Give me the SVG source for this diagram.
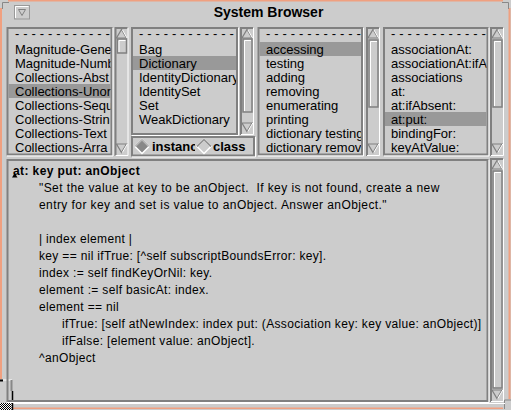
<svg xmlns="http://www.w3.org/2000/svg" width="511" height="410" viewBox="0 0 511 410">
<style>
.lst{font-family:"Liberation Sans",Arial,Helvetica,sans-serif;font-size:13px;fill:#000}
.code{font-family:"Liberation Sans",Arial,Helvetica,sans-serif;font-size:12px;fill:#000;letter-spacing:0.33px}
.cmt{letter-spacing:0.42px}
.hdr{font-weight:bold;letter-spacing:0.4px}
.b{font-weight:bold}
.frame{fill:none;stroke:#808080;stroke-width:2}
.hl{fill:none;stroke:#fff;stroke-width:1}
.sel{fill:#999}
.dk{fill:none;stroke:#808080;stroke-width:2}
.wt{fill:none;stroke:#fff;stroke-width:1}
.arr{fill:none;stroke:#808080;stroke-width:1.2}
.thumb{fill:#ccc;stroke:#808080;stroke-width:1.5}
.dash{letter-spacing:3.9px}
.or{fill:#f0a080}
</style>
<defs>
<g id="up"><polygon class="arr" points="7,2.5 12,11 2,11"/><path class="wt" d="M8,3 L12.8,11.5"/></g>
<g id="dn"><polygon class="arr" points="2,-12 12,-12 7,-3.5"/><path class="wt" d="M12.8,-12 L7.8,-3.5"/></g>
<clipPath id="c1"><rect x="8.5" y="29" width="102" height="124.5"/></clipPath>
<clipPath id="c2"><rect x="133" y="29" width="103" height="104"/></clipPath>
<clipPath id="c3"><rect x="259.5" y="29" width="101.5" height="124.5"/></clipPath>
<clipPath id="c4"><rect x="385" y="29" width="101.5" height="124.5"/></clipPath>
<clipPath id="cb"><rect x="133" y="138" width="62" height="17"/></clipPath>
<clipPath id="cc"><rect x="8.5" y="161" width="478" height="239"/></clipPath>
<pattern id="chk" width="2" height="2" patternUnits="userSpaceOnUse"><rect width="2" height="2" fill="#fff"/><rect width="1" height="1" fill="#000"/><rect x="1" y="1" width="1" height="1" fill="#000"/></pattern>
</defs>

<g id="window">
<rect width="511" height="410" fill="#cccccc"/>
<rect class="or" x="8" y="0" width="495" height="1.5"/>
<rect class="or" x="0" y="8" width="2" height="371"/>
<rect class="or" x="508.5" y="8" width="2" height="391"/>
<rect class="or" x="13" y="407.5" width="490" height="1.5"/>
<path d="M2.5,9 V2.5 H9" fill="none" stroke="#888" stroke-width="1"/>
<path d="M502,2.5 H508.5 V9" fill="none" stroke="#888" stroke-width="1"/>
<path d="M504.5,409 V400 H511" fill="none" stroke="#888" stroke-width="1"/>
<line x1="13" y1="403.5" x2="505" y2="403.5" stroke="#fff" stroke-width="1"/>
</g>

<g id="resize-handle">
<rect x="0" y="379" width="13" height="31" fill="#ccc"/>
<rect x="0" y="379.5" width="3" height="2" fill="#000"/>
<path d="M3,380 H12" stroke="#fff" stroke-width="1"/>
<path d="M11.5,380 V391" stroke="#888" stroke-width="2"/>
<path d="M12.5,391 V410" stroke="#000" stroke-width="1.5"/>
<rect x="0" y="403" width="11.5" height="7" fill="url(#chk)"/>
</g>

<g id="title-bar">
<rect x="14.5" y="5.5" width="15" height="13.5" fill="#ccc" stroke="#999" stroke-width="1"/>
<path d="M15.5,18 V6.5 H28.5" fill="none" stroke="#fff" stroke-width="1"/>
<polygon points="18.5,9.5 25.5,9.5 22,15.5" fill="none" stroke="#808080" stroke-width="1"/>
<text class="lst b" x="268.5" y="17" text-anchor="middle" style="font-size:14px">System Browser</text>
</g>

<g id="category-pane">
<rect class="frame" x="7.5" y="28" width="104" height="126.5"/>
<path class="hl" d="M113,28 V156 H7"/>
<rect class="sel" x="8.5" y="84" width="102" height="14"/>
<g clip-path="url(#c1)">
<text class="lst dash" x="15" y="38">------------</text>
<text class="lst" x="15" y="54">Magnitude-Gene</text>
<text class="lst" x="15" y="68">Magnitude-Numb</text>
<text class="lst" x="15" y="82">Collections-Abst</text>
<text class="lst" x="15" y="96">Collections-Unor</text>
<text class="lst" x="15" y="110">Collections-Sequ</text>
<text class="lst" x="15" y="124">Collections-Strin</text>
<text class="lst" x="15" y="138">Collections-Text</text>
<text class="lst" x="15" y="152">Collections-Arra</text>
</g>
</g>
<g id="category-scroll" transform="translate(114.5,27)">
<path class="dk" d="M1,129 V1 H13"/><path class="wt" d="M13.5,1 V128.5 H1"/>
<use href="#up"/><use href="#dn" transform="translate(0,129)"/>
<rect class="thumb" x="3" y="12" width="9" height="14"/><path class="wt" d="M4.5,25 V13.5 H11"/>
</g>

<g id="class-pane">
<rect class="frame" x="132" y="28" width="105" height="106"/>
<path class="hl" d="M238.5,28 V135.5 H132"/>
<rect class="sel" x="133" y="56" width="103" height="14"/>
<g clip-path="url(#c2)">
<text class="lst dash" x="139" y="38">------------</text>
<text class="lst" x="139" y="54">Bag</text>
<text class="lst" x="139" y="68">Dictionary</text>
<text class="lst" x="139" y="82">IdentityDictionary</text>
<text class="lst" x="139" y="96">IdentitySet</text>
<text class="lst" x="139" y="110">Set</text>
<text class="lst" x="139" y="124">WeakDictionary</text>
</g>
</g>
<g id="class-scroll" transform="translate(240,27)">
<path class="dk" d="M1,108 V1 H13"/><path class="wt" d="M13.5,1 V107.5 H1"/>
<use href="#up"/><use href="#dn" transform="translate(0,108)"/>
<rect class="thumb" x="3" y="12" width="9" height="73"/><path class="wt" d="M4.5,84 V13.5 H11"/>
</g>

<g id="instance-class-switch">
<rect class="frame" x="132" y="137" width="122" height="18.5"/>
<path class="hl" d="M255.5,137 V157 H132"/>
<polygon points="135,146.5 142,139.5 149,146.5 142,153.5" fill="#888" stroke="#fff" stroke-width="1.5"/>
<path d="M135,146.5 L142,139.5 L149,146.5" fill="none" stroke="#777" stroke-width="1"/>
<text class="lst b" x="152" y="151" clip-path="url(#cb)">instanc</text>
<polygon points="197,146.5 204,139.5 211,146.5 204,153.5" fill="#ccc" stroke="#fff" stroke-width="1.5"/>
<path d="M197,146.5 L204,139.5 L211,146.5" fill="none" stroke="#808080" stroke-width="1.2"/>
<text class="lst b" x="213" y="151">class</text>
</g>

<g id="protocol-pane">
<rect class="frame" x="258.5" y="28" width="103.5" height="126.5"/>
<path class="hl" d="M363.5,28 V156 H258"/>
<rect class="sel" x="259.5" y="42" width="101.5" height="14"/>
<g clip-path="url(#c3)">
<text class="lst dash" x="266" y="38">------------</text>
<text class="lst" x="266" y="54">accessing</text>
<text class="lst" x="266" y="68">testing</text>
<text class="lst" x="266" y="82">adding</text>
<text class="lst" x="266" y="96">removing</text>
<text class="lst" x="266" y="110">enumerating</text>
<text class="lst" x="266" y="124">printing</text>
<text class="lst" x="266" y="138">dictionary testing</text>
<text class="lst" x="266" y="152">dictionary removi</text>
</g>
</g>
<g id="protocol-scroll" transform="translate(366,27)">
<path class="dk" d="M1,129 V1 H13"/><path class="wt" d="M13.5,1 V128.5 H1"/>
<use href="#up"/><use href="#dn" transform="translate(0,129)"/>
<rect class="thumb" x="3" y="13" width="9" height="67"/><path class="wt" d="M4.5,79 V14.5 H11"/>
</g>

<g id="method-pane">
<rect class="frame" x="384" y="28" width="103.5" height="126.5"/>
<path class="hl" d="M489,28 V156 H384"/>
<rect class="sel" x="385" y="112" width="101.5" height="14"/>
<g clip-path="url(#c4)">
<text class="lst dash" x="391" y="38">------------</text>
<text class="lst" x="391" y="54">associationAt:</text>
<text class="lst" x="391" y="68">associationAt:ifA</text>
<text class="lst" x="391" y="82">associations</text>
<text class="lst" x="391" y="96">at:</text>
<text class="lst" x="391" y="110">at:ifAbsent:</text>
<text class="lst" x="391" y="124">at:put:</text>
<text class="lst" x="391" y="138">bindingFor:</text>
<text class="lst" x="391" y="152">keyAtValue:</text>
</g>
</g>
<g id="method-scroll" transform="translate(490,27)">
<path class="dk" d="M1,129 V1 H13"/><path class="wt" d="M13.5,1 V128.5 H1"/>
<use href="#up"/><use href="#dn" transform="translate(0,129)"/>
<rect class="thumb" x="3" y="13" width="9" height="67"/><path class="wt" d="M4.5,79 V14.5 H11"/>
</g>

<g id="code-pane">
<rect class="frame" x="7.5" y="160" width="480" height="241"/>
<path class="hl" d="M489,160 V402.5 H7"/>
<g clip-path="url(#cc)">
<text class="code hdr" x="13" y="175">at: key put: anObject</text>
<text class="code cmt" x="39" y="192">"Set the value at key to be anObject.&#160; If key is not found, create a new</text>
<text class="code cmt" x="39" y="209">entry for key and set is value to anObject. Answer anObject."</text>
<text class="code" x="39" y="243">| index element |</text>
<text class="code" x="39" y="260">key == nil ifTrue: [^self subscriptBoundsError: key].</text>
<text class="code" x="39" y="277">index := self findKeyOrNil: key.</text>
<text class="code" x="39" y="294">element := self basicAt: index.</text>
<text class="code" x="39" y="311">element == nil</text>
<text class="code" x="62" y="328">ifTrue: [self atNewIndex: index put: (Association key: key value: anObject)]</text>
<text class="code" x="62" y="345">ifFalse: [element value: anObject].</text>
<text class="code" x="39" y="362">^anObject</text>
</g>
<polygon points="12,177.5 17.5,177.5 14.75,173" fill="#000"/>
</g>
<g id="code-scroll" transform="translate(490,158)">
<path class="dk" d="M1,244 V1 H13"/><path class="wt" d="M13.5,1 V243.5 H1"/>
<use href="#up"/><use href="#dn" transform="translate(0,244)"/>
<rect class="thumb" x="3" y="13" width="9" height="217"/><path class="wt" d="M4.5,229 V14.5 H11"/>
</g>
</svg>
